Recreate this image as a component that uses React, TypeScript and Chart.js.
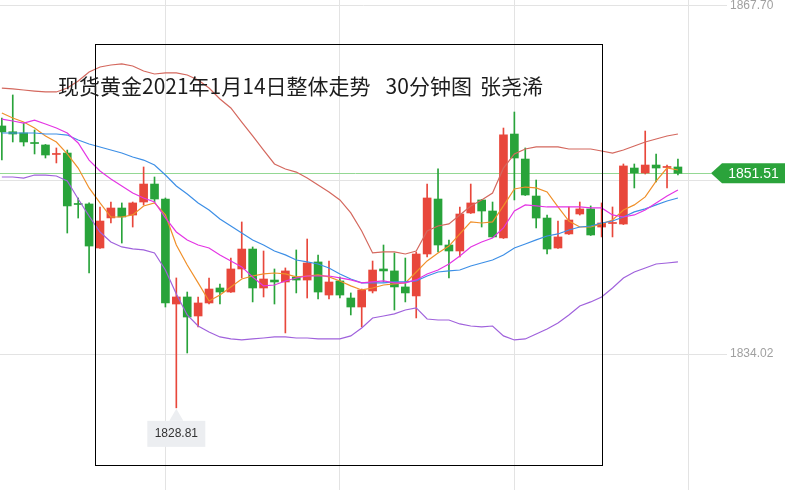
import { useEffect, useRef } from "react";
import { Chart, registerables } from "chart.js";

Chart.register(...registerables);

// ─── Data (XAU/USD 30-min candles, 2021-01-14) ────────────────────────────────
const opens = [
  1856.09, 1855.53, 1855.41, 1854.49, 1854.25, 1853.33, 1853.47, 1848.59, 1848.54, 1844.28,
  1847.19, 1848.15, 1847.47, 1848.73, 1850.47, 1849.02, 1838.86, 1839.54, 1837.70, 1838.96,
  1840.41, 1840.02, 1842.25, 1844.18, 1840.41, 1841.18, 1840.99, 1841.47, 1841.18, 1842.93,
  1839.73, 1841.09, 1839.44, 1838.57, 1840.12, 1842.25, 1842.06, 1840.51, 1839.64, 1843.70,
  1849.02, 1844.57, 1843.99, 1847.67, 1848.93, 1847.86, 1845.25, 1855.31, 1852.89, 1849.31,
  1847.18, 1844.28, 1845.64, 1847.57, 1848.06, 1846.31, 1846.65, 1846.60, 1852.02, 1851.54,
  1852.31, 1852.07, 1852.12,
];
const highs = [
  1856.86, 1859.09, 1856.38, 1855.70, 1854.30, 1853.96, 1853.76, 1849.12, 1848.64, 1848.25,
  1848.73, 1848.64, 1848.73, 1852.12, 1851.15, 1849.12, 1841.38, 1840.02, 1839.54, 1841.38,
  1840.80, 1843.31, 1846.80, 1844.38, 1843.99, 1842.25, 1842.35, 1844.09, 1845.15, 1843.60,
  1843.02, 1841.47, 1839.93, 1840.31, 1843.02, 1844.57, 1843.80, 1843.31, 1843.89, 1850.47,
  1851.93, 1845.05, 1848.25, 1850.47, 1848.97, 1848.73, 1855.89, 1857.44, 1853.96, 1850.86,
  1847.47, 1846.89, 1848.25, 1848.73, 1848.35, 1848.64, 1848.25, 1852.41, 1852.41, 1855.60,
  1853.38, 1852.31, 1852.89,
];
const lows = [
  1852.80, 1854.54, 1854.15, 1853.38, 1852.99, 1852.51, 1845.73, 1847.18, 1841.86, 1844.23,
  1846.70, 1844.76, 1846.31, 1848.44, 1848.73, 1838.57, 1828.81, 1834.12, 1836.64, 1838.86,
  1838.86, 1839.97, 1841.38, 1839.06, 1839.54, 1838.86, 1836.06, 1839.93, 1839.44, 1839.35,
  1839.35, 1839.44, 1837.80, 1836.64, 1839.93, 1840.99, 1838.28, 1839.06, 1837.51, 1843.41,
  1843.89, 1841.38, 1843.41, 1847.62, 1846.31, 1845.30, 1845.20, 1848.93, 1849.36, 1846.22,
  1843.70, 1844.23, 1845.59, 1847.47, 1845.49, 1845.35, 1845.35, 1846.55, 1850.09, 1851.44,
  1850.67, 1850.09, 1851.35,
];
const closes = [
  1855.51, 1855.31, 1854.54, 1854.39, 1853.28, 1853.43, 1848.35, 1848.49, 1844.47, 1846.89,
  1848.15, 1847.28, 1848.64, 1850.47, 1849.02, 1838.96, 1839.54, 1837.60, 1838.96, 1840.31,
  1840.02, 1842.25, 1844.18, 1840.41, 1841.28, 1840.99, 1842.06, 1841.18, 1842.83, 1840.02,
  1840.99, 1839.73, 1838.57, 1840.22, 1842.15, 1842.06, 1840.51, 1839.93, 1843.70, 1849.12,
  1844.57, 1843.99, 1847.57, 1848.64, 1847.86, 1845.35, 1855.22, 1852.99, 1849.41, 1847.18,
  1844.18, 1845.35, 1846.99, 1848.06, 1845.54, 1846.70, 1846.75, 1852.22, 1851.54, 1852.31,
  1852.02, 1852.17, 1851.51,
];

const ma5 = [
  1857.34, 1856.86, 1856.47, 1855.89, 1855.12, 1854.54, 1853.38, 1852.02, 1850.09, 1848.64,
  1847.28, 1847.28, 1847.48, 1848.35, 1848.64, 1847.48, 1844.57, 1842.64, 1840.90, 1839.15,
  1839.73, 1840.51, 1841.28, 1841.57, 1841.77, 1841.86, 1841.77, 1841.48, 1841.57, 1841.67,
  1841.48, 1841.09, 1840.61, 1840.22, 1840.41, 1840.70, 1840.80, 1840.90, 1841.96, 1843.03,
  1843.80, 1844.47, 1845.64, 1846.80, 1846.70, 1846.80, 1848.35, 1849.99, 1850.18, 1850.09,
  1849.70, 1848.25, 1846.89, 1846.31, 1846.31, 1846.61, 1846.99, 1847.96, 1848.45, 1849.22,
  1850.76, 1852.02, 1851.83,
];
const maLong = [
  1855.41, 1855.41, 1855.41, 1855.41, 1855.31, 1855.31, 1855.21, 1854.73, 1854.34, 1854.05,
  1853.76, 1853.47, 1853.09, 1852.79, 1852.31, 1851.34, 1850.28, 1849.51, 1848.64, 1847.96,
  1847.09, 1846.41, 1845.73, 1845.06, 1844.57, 1843.99, 1843.61, 1843.12, 1842.93, 1842.73,
  1842.35, 1841.77, 1841.28, 1840.90, 1840.90, 1840.90, 1841.00, 1841.00, 1841.09, 1841.57,
  1841.96, 1842.06, 1842.15, 1842.54, 1842.83, 1843.12, 1843.61, 1844.28, 1844.67, 1845.06,
  1845.44, 1845.64, 1846.02, 1846.31, 1846.41, 1846.70, 1846.89, 1847.28, 1847.77, 1848.06,
  1848.45, 1848.83, 1849.12,
];
const bollMid = [
  1856.76, 1856.57, 1856.37, 1856.66, 1856.28, 1855.89, 1855.41, 1854.44, 1852.79, 1851.73,
  1850.96, 1850.28, 1849.60, 1849.12, 1848.74, 1847.19, 1845.83, 1845.06, 1844.57, 1844.28,
  1843.61, 1843.03, 1842.45, 1841.48, 1840.61, 1840.70, 1841.09, 1841.38, 1841.57, 1841.57,
  1841.57, 1841.38, 1841.19, 1840.90, 1841.00, 1841.09, 1840.90, 1840.90, 1841.19, 1841.77,
  1842.15, 1842.73, 1843.51, 1844.38, 1844.86, 1845.25, 1846.22, 1847.87, 1848.45, 1848.35,
  1848.25, 1848.25, 1848.25, 1848.25, 1848.16, 1848.16, 1847.48, 1847.28, 1847.48, 1847.96,
  1848.64, 1849.31, 1849.89,
];
const bollUpper = [
  1859.76, 1859.67, 1859.57, 1859.47, 1859.38, 1859.38, 1859.76, 1860.44, 1861.31, 1861.80,
  1861.99, 1862.09, 1861.89, 1861.41, 1861.12, 1861.22, 1861.22, 1861.02, 1860.54, 1859.76,
  1858.70, 1857.83, 1856.47, 1855.12, 1853.76, 1852.41, 1851.92, 1851.63, 1851.05, 1850.37,
  1849.70, 1848.93, 1847.67, 1845.93, 1843.80, 1843.90, 1843.90, 1843.70, 1843.99, 1845.93,
  1846.41, 1846.61, 1847.48, 1848.35, 1848.93, 1849.60, 1852.02, 1853.38, 1853.86, 1854.06,
  1854.06, 1854.06, 1853.86, 1853.86, 1853.86, 1853.67, 1853.47, 1853.76, 1854.15, 1854.54,
  1854.83, 1855.12, 1855.31,
];
const bollLower = [
  1851.15, 1851.15, 1851.05, 1851.34, 1851.34, 1851.25, 1850.76, 1849.02, 1847.38, 1845.83,
  1844.86, 1844.38, 1844.19, 1844.09, 1843.80, 1842.15, 1839.83, 1837.80, 1836.73, 1836.15,
  1835.67, 1835.48, 1835.38, 1835.48, 1835.57, 1835.67, 1835.67, 1835.57, 1835.57, 1835.48,
  1835.48, 1835.48, 1835.77, 1836.54, 1837.51, 1837.70, 1837.90, 1838.28, 1838.48, 1837.41,
  1837.31, 1837.31, 1836.93, 1836.73, 1836.64, 1836.73, 1835.77, 1835.38, 1835.48, 1835.96,
  1836.44, 1837.03, 1837.80, 1838.67, 1839.06, 1839.54, 1840.41, 1841.38, 1841.96, 1842.35,
  1842.73, 1842.83, 1842.93,
];

const yTickValues = [1867.70, 1850.86, 1834.02];
const yTickLabels = ["1867.70", "", "1834.02"];
const xGridIndex = [15, 31, 47, 63];

const TITLE_PARTS = ["现货黄金2021年1月14日整体走势", "30分钟图", "张尧浠"];

// ─── Colours ──────────────────────────────────────────────────────────────────
const UP = "#e8473b";
const DOWN = "#28a33a";
const GRID = "#e3e3e3";
const FONT = "'Liberation Sans', Arial, sans-serif";

const noPad = (s: any) => {
  s.paddingTop = 0;
  s.paddingBottom = 0;
  s.paddingLeft = 0;
  s.paddingRight = 0;
};

// ─── Overlay plugin: last-price line + tag, low marker ────────────────────────
const overlayPlugin = {
  id: "overlay",
  beforeDatasetsDraw(chart: any) {
    const { ctx, chartArea, scales } = chart;
    const last = closes[closes.length - 1];
    const py = Math.round(scales.y.getPixelForValue(last)) + 0.5;
    ctx.save();
    ctx.strokeStyle = "#94d894";
    ctx.lineWidth = 1;
    ctx.beginPath();
    ctx.moveTo(chartArea.left, py);
    ctx.lineTo(chartArea.right - 16, py);
    ctx.stroke();
    ctx.restore();
  },
  afterDraw(chart: any) {
    const { ctx, chartArea, scales, width } = chart;
    const last = closes[closes.length - 1];
    const py = scales.y.getPixelForValue(last);

    // price tag
    const tip = chartArea.right - 16;
    ctx.save();
    ctx.fillStyle = "#2ba33b";
    ctx.beginPath();
    ctx.moveTo(tip, py);
    ctx.lineTo(tip + 11, py - 10);
    ctx.lineTo(width - 4, py - 10);
    ctx.lineTo(width - 4, py + 10);
    ctx.lineTo(tip + 11, py + 10);
    ctx.closePath();
    ctx.fill();
    ctx.fillStyle = "#ffffff";
    ctx.font = `14px ${FONT}`;
    ctx.textAlign = "center";
    ctx.textBaseline = "middle";
    ctx.fillText(last.toFixed(2), (tip + 11 + width - 4) / 2, py + 1);

    // lowest low marker
    let li = 0;
    lows.forEach((v, i) => { if (v < lows[li]) li = i; });
    const lx = scales.x.getPixelForValue(li);
    const ly = scales.y.getPixelForValue(lows[li]);
    ctx.fillStyle = "#eceef1";
    ctx.beginPath();
    ctx.moveTo(lx, ly + 1);
    ctx.lineTo(lx - 7, ly + 13);
    ctx.lineTo(lx + 7, ly + 13);
    ctx.closePath();
    ctx.fill();
    ctx.fillRect(lx - 29, ly + 13, 58, 26);
    ctx.fillStyle = "#333333";
    ctx.font = `12px ${FONT}`;
    ctx.fillText(lows[li].toFixed(2), lx, ly + 26);
    ctx.restore();
  },
};

// ─── Component ────────────────────────────────────────────────────────────────
export default function App() {
  const canvasRef = useRef<HTMLCanvasElement | null>(null);
  const chartRef = useRef<any>(null);

  useEffect(() => {
    if (!canvasRef.current) return;
    if (chartRef.current) chartRef.current.destroy();

    const idx = closes.map((_, i) => i);
    const candleColor = idx.map((i) => (closes[i] >= opens[i] ? UP : DOWN));
    const line = (data: number[], color: string) => ({
      type: "line" as const,
      data: data.map((v, i) => ({ x: i, y: v })),
      borderColor: color,
      borderWidth: 1.2,
      pointRadius: 0,
      tension: 0,
      fill: false,
      order: 0,
    });

    chartRef.current = new Chart(canvasRef.current, {
      type: "bar",
      data: {
        datasets: [
          line(bollUpper, "#d4685e") as any,
          line(bollLower, "#a062dc") as any,
          line(bollMid, "#e435e4") as any,
          line(maLong, "#3d8fe6") as any,
          line(ma5, "#f0902a") as any,
          {
            type: "bar",
            data: idx.map((i) => ({ x: i, y: [opens[i], closes[i]] })),
            backgroundColor: candleColor,
            barThickness: 8,
            grouped: false,
            borderWidth: 0,
            order: 1,
          },
          {
            type: "bar",
            data: idx.map((i) => ({ x: i, y: [lows[i], highs[i]] })),
            backgroundColor: candleColor,
            barThickness: 1,
            grouped: false,
            borderWidth: 0,
            order: 2,
          },
        ],
      },
      options: {
        responsive: true,
        maintainAspectRatio: false,
        animation: false,
        layout: { padding: 0 },
        plugins: { legend: { display: false }, tooltip: { enabled: false } },
        scales: {
          x: {
            type: "linear",
            offset: false,
            min: -0.17,
            max: 66.5,
            afterBuildTicks: (s: any) => { s.ticks = xGridIndex.map((v) => ({ value: v })); },
            afterFit: (s: any) => { s.height = 0; noPad(s); },
            ticks: { display: false },
            grid: { color: GRID, drawTicks: false, offset: false },
            border: { display: false },
          },
          y: {
            position: "right",
            min: 1820.86,
            max: 1868.28,
            afterBuildTicks: (s: any) => { s.ticks = yTickValues.map((v) => ({ value: v })); },
            afterFit: (s: any) => { s.width = 62; noPad(s); },
            ticks: {
              padding: 3,
              color: "#a0a0a0",
              font: { family: FONT, size: 12 },
              callback: (_v: any, i: number) => yTickLabels[i],
            },
            grid: { color: GRID, drawTicks: false },
            border: { display: false },
          },
        },
      },
      plugins: [overlayPlugin],
    });

    return () => { if (chartRef.current) chartRef.current.destroy(); };
  }, []);

  return (
    <>
      <style>{`
        html, body { margin: 0; padding: 0; background: #ffffff; }
      `}</style>
      <div style={{ position: "relative", width: 789, height: 490, background: "#ffffff", overflow: "hidden" }}>
        <canvas ref={canvasRef} />
        {/* Frame */}
        <div style={{ position: "absolute", left: 95, top: 44, width: 506, height: 420, border: "1px solid #000", pointerEvents: "none" }} />
        {/* Title */}
        <div style={{ position: "absolute", left: 58, top: 75, fontFamily: "'Noto Sans CJK SC', 'Noto Sans', sans-serif", fontSize: 21, lineHeight: "21px", color: "#1c1c1c", whiteSpace: "nowrap", pointerEvents: "none" }}>
          <span>{TITLE_PARTS[0]}</span>
          <span style={{ marginLeft: 15 }}>{TITLE_PARTS[1]}</span>
          <span style={{ marginLeft: 8 }}>{TITLE_PARTS[2]}</span>
        </div>
      </div>
    </>
  );
}
